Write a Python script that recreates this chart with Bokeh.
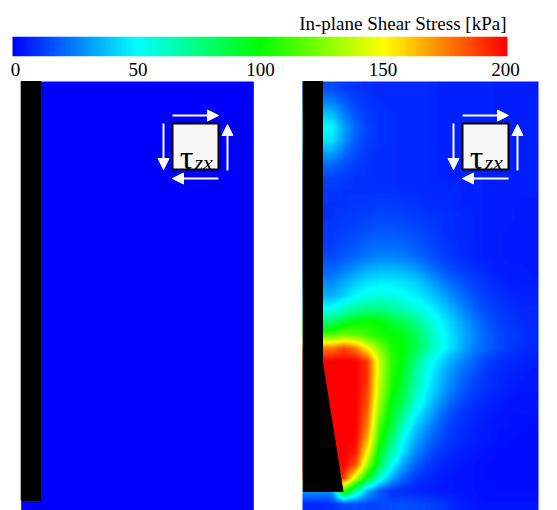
import numpy as np
from bokeh.plotting import figure
from bokeh.layouts import column
from bokeh.models import Range1d, LinearColorMapper, FixedTicker, Arrow, NormalHead
from bokeh.core.properties import value
from bokeh.embed import file_html
from bokeh.resources import INLINE

# ---------------- data ----------------
cbar_title = "In-plane Shear Stress [kPa]"
cbar_ticks = [0, 50, 100, 150, 200]
cbar_low, cbar_high = 0, 200
shear_symbol = "\u03c4"
shear_subscript = "zx"

# left case: uniform stress field (kPa)
left_field = [[0]]

# right case: stress field (kPa), rows from top to bottom, columns from wall outwards
right_field = [
    [15, 15, 15, 12, 10, 9, 8, 8, 8, 8, 8, 7, 7, 7, 7, 7, 6, 6, 6, 6],
    [25, 25, 25, 18, 13, 10, 9, 8, 8, 8, 8, 7, 7, 7, 7, 7, 6, 6, 6, 6],
    [38, 38, 38, 25, 16, 12, 10, 9, 8, 8, 8, 7, 7, 7, 7, 7, 6, 6, 6, 6],
    [52, 52, 50, 32, 20, 13, 10, 9, 8, 8, 8, 7, 7, 7, 7, 7, 6, 6, 6, 6],
    [46, 46, 45, 30, 18, 12, 10, 9, 8, 8, 8, 7, 7, 7, 7, 7, 6, 6, 6, 6],
    [32, 32, 32, 22, 15, 11, 9, 9, 8, 8, 8, 7, 7, 7, 7, 7, 6, 6, 6, 6],
    [20, 20, 20, 15, 12, 10, 9, 9, 8, 8, 8, 7, 7, 7, 7, 6, 6, 6, 6, 6],
    [13, 13, 13, 12, 10, 10, 9, 9, 8, 8, 8, 7, 7, 7, 7, 6, 6, 6, 6, 6],
    [11, 11, 11, 10, 10, 10, 10, 10, 9, 9, 8, 8, 8, 7, 7, 6, 6, 6, 6, 6],
    [10, 10, 10, 10, 11, 11, 12, 12, 11, 10, 9, 9, 8, 7, 7, 6, 6, 6, 5, 5],
    [10, 10, 10, 11, 12, 13, 14, 14, 13, 12, 11, 10, 9, 8, 7, 6, 6, 6, 5, 5],
    [11, 11, 11, 13, 14, 16, 17, 17, 16, 15, 13, 11, 9, 8, 7, 6, 6, 5, 5, 5],
    [12, 12, 12, 15, 17, 20, 21, 21, 20, 18, 15, 12, 10, 8, 7, 6, 6, 5, 5, 5],
    [15, 15, 15, 18, 20, 24, 26, 26, 25, 22, 18, 14, 11, 9, 7, 6, 6, 5, 5, 5],
    [20, 20, 20, 25, 30, 35, 37, 37, 35, 32, 26, 20, 15, 12, 10, 8, 6, 6, 6, 5],
    [28, 28, 28, 34, 40, 45, 47, 47, 45, 42, 36, 28, 22, 17, 13, 10, 8, 6, 6, 6],
    [35, 35, 35, 42, 50, 55, 57, 56, 52, 48, 43, 36, 28, 22, 16, 12, 10, 8, 7, 7],
    [52, 52, 52, 62, 70, 74, 74, 70, 64, 58, 51, 44, 36, 28, 20, 15, 12, 10, 8, 8],
    [80, 80, 80, 92, 100, 102, 100, 92, 85, 75, 62, 52, 42, 33, 25, 18, 14, 11, 9, 8],
    [115, 115, 115, 122, 118, 110, 104, 100, 95, 85, 70, 55, 45, 35, 27, 20, 15, 12, 10, 8],
    [175, 175, 175, 185, 175, 150, 125, 105, 100, 88, 72, 56, 45, 35, 26, 20, 15, 12, 9, 8],
    [200, 200, 200, 200, 200, 188, 140, 110, 96, 78, 58, 45, 35, 27, 20, 14, 10, 8, 7, 6],
    [200, 200, 200, 200, 200, 190, 140, 108, 93, 72, 53, 40, 30, 22, 16, 11, 8, 7, 6, 5],
    [200, 200, 200, 200, 200, 188, 138, 105, 90, 68, 50, 37, 27, 19, 13, 10, 8, 6, 5, 5],
    [200, 200, 200, 200, 200, 185, 132, 100, 85, 62, 45, 32, 22, 15, 10, 8, 6, 5, 4, 4],
    [200, 200, 200, 200, 200, 180, 125, 95, 75, 52, 38, 25, 16, 11, 8, 6, 5, 4, 4, 4],
    [200, 200, 200, 200, 200, 175, 115, 90, 62, 42, 30, 20, 13, 9, 7, 5, 4, 4, 3, 3],
    [200, 200, 200, 200, 200, 165, 108, 80, 52, 35, 24, 16, 11, 8, 6, 5, 4, 3, 3, 3],
    [200, 200, 200, 200, 195, 150, 95, 68, 45, 28, 18, 12, 8, 6, 5, 4, 3, 3, 3, 3],
    [198, 198, 198, 198, 185, 130, 85, 55, 32, 20, 12, 8, 6, 5, 4, 3, 3, 3, 3, 3],
    [190, 190, 190, 190, 140, 95, 60, 35, 20, 12, 8, 6, 5, 4, 4, 3, 3, 3, 3, 3],
    [30, 30, 30, 110, 70, 35, 18, 10, 8, 7, 6, 5, 5, 4, 4, 3, 3, 3, 3, 3],
    [8, 8, 10, 14, 15, 14, 14, 15, 16, 15, 14, 12, 9, 6, 5, 4, 4, 4, 4, 4],
]

# ---------------- colour map (jet-like) ----------------
stop_vals = [0, 50, 100, 150, 200]
stop_rgb = [(0, 0, 255), (0, 255, 255), (0, 255, 0), (255, 255, 0), (255, 0, 0)]
vv = np.linspace(0, 200, 256)
chan = [np.interp(vv, stop_vals, [c[k] for c in stop_rgb]) for k in range(3)]
palette = ["#%02x%02x%02x" % (int(round(r)), int(round(g)), int(round(b)))
           for r, g, b in zip(*chan)]
mapper = LinearColorMapper(palette=palette, low=cbar_low, high=cbar_high)

SERIF = "'Liberation Serif', 'Times New Roman', serif"


def shade(field, w, h):
    """Smooth (bilinear) shading of the node values for display at w x h pixels."""
    a = np.asarray(field, dtype=float)
    nr, nc = a.shape
    u = np.clip((np.arange(w) + 0.5) / w * nc - 0.5, 0, nc - 1)
    v = np.clip((np.arange(h) + 0.5) / h * nr - 0.5, 0, nr - 1)
    tmp = np.array([np.interp(u, np.arange(nc), row) for row in a])
    return np.array([np.interp(v, np.arange(nr), tmp[:, j]) for j in range(w)]).T


# ---------------- colour bar figure ----------------
px = 200.0 / 490.0            # kPa per pixel on the colour bar
xa = -15 * px                 # value at left page edge
xb = xa + 557 * px            # value at right page edge
top = figure(width=557, height=80, x_range=Range1d(xa, xb), y_range=Range1d(0, 1),
             output_backend="svg", toolbar_location=None,
             min_border_left=0, min_border_right=0, min_border_top=36, min_border_bottom=24,
             outline_line_color=None, title=cbar_title, title_location="above")
grad = np.linspace(cbar_low, cbar_high, 512).reshape(1, -1)
cb_left = xa + 12 * px
cb_right = xa + 507 * px
top.image(image=[grad], x=cb_left, y=0, dw=cb_right - cb_left, dh=1, color_mapper=mapper)
top.yaxis.visible = False
top.grid.visible = False
ax = top.xaxis[0]
ax.ticker = FixedTicker(ticks=cbar_ticks)
ax.major_tick_line_color = None
ax.minor_tick_line_color = None
ax.axis_line_color = None
ax.major_label_text_font = SERIF
ax.major_label_text_font_size = "19px"
ax.major_label_text_color = "black"
ax.major_label_standoff = 0
top.title.align = "right"
top.title.offset = 51
top.title.text_font = SERIF
top.title.text_font_size = "19px"
top.title.text_font_style = "normal"
top.title.text_color = "black"
top.title.standoff = 6

# ---------------- panels figure ----------------
H0 = 510  # page bottom in pixels


def Y(ypix):
    return H0 - ypix


bot = figure(width=557, height=430, x_range=Range1d(0, 557), y_range=Range1d(0, 430),
             output_backend="svg", toolbar_location=None, min_border=0,
             x_axis_location=None, y_axis_location=None, outline_line_color=None)
bot.grid.visible = False

# stress fields
bot.image(image=[np.array(left_field, dtype=float)], x=20.7, y=Y(510), dw=232.6, dh=429,
          color_mapper=mapper)
bot.image(image=[np.flipud(shade(right_field, 236, 429))], x=302, y=Y(510), dw=236,
          dh=429, color_mapper=mapper)

# walls
bot.quad(left=20.7, right=40, top=Y(81), bottom=Y(500), color="black")
bot.patch(x=[302.7, 322, 322, 342.5, 302.7], y=[Y(81), Y(81), Y(362), Y(491), Y(491)],
          color="black")

# shear element icons
for o in (0, 290):
    bot.quad(left=172 + o, right=218 + o, top=Y(123), bottom=Y(169),
             fill_color="#f6f6f6", line_color="black", line_width=2)
    bot.text(x=[186 + o], y=[Y(157)], text=[shear_symbol], text_font=value(SERIF),
             text_font_size="34px", text_align="center", text_baseline="alphabetic",
             text_color="black")
    bot.text(x=[194 + o], y=[Y(162)], text=[shear_subscript], text_font=value(SERIF),
             text_font_size="22px", text_font_style="italic", text_align="left",
             text_baseline="alphabetic", text_color="black")
    for (x0, y0, x1, y1) in [(172, 115, 218, 115), (227, 170, 227, 124),
                             (218, 178, 172, 178), (163, 123, 163, 169)]:
        bot.add_layout(Arrow(x_start=x0 + o, y_start=Y(y0), x_end=x1 + o, y_end=Y(y1),
                             end=NormalHead(size=11, fill_color="white", line_color="white"),
                             line_color="white", line_width=2))

layout = column(top, bot, spacing=0)
open("out.html", "w").write(file_html(layout, INLINE))
